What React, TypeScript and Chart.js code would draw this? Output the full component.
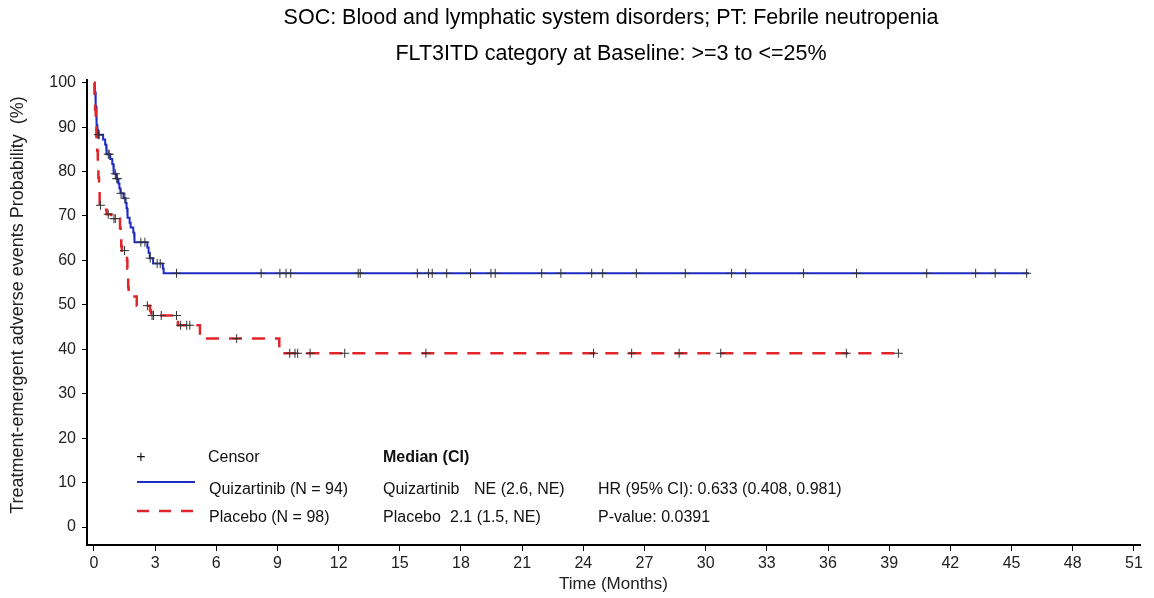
import React, { useEffect, useRef } from "react";
import { Chart, registerables } from "chart.js";

Chart.register(...registerables);

const FONT = '"Liberation Sans", Arial, sans-serif';

const TITLE_LINES = [
  "SOC: Blood and lymphatic system disorders; PT: Febrile neutropenia",
  "FLT3ITD category at Baseline: >=3 to <=25%",
];
const X_TITLE = "Time (Months)";
const Y_TITLE = "Treatment-emergent adverse events Probability  (%)";

const X_TICKS = [0, 3, 6, 9, 12, 15, 18, 21, 24, 27, 30, 33, 36, 39, 42, 45, 48, 51];
const Y_TICKS = [0, 10, 20, 30, 40, 50, 60, 70, 80, 90, 100];

// Quizartinib (blue, solid)
const QUIZ_EVENT_TIMES = [
  0.03, 0.05, 0.07, 0.08, 0.1, 0.11, 0.12, 0.13, 0.15, 0.17, 0.2,
  0.45, 0.55, 0.6, 0.63, 0.8, 0.9, 0.95, 0.98, 1.1, 1.2, 1.25, 1.3,
  1.45, 1.55, 1.6, 1.63, 1.66, 1.75, 1.8, 1.93, 1.97, 2.0,
  2.62, 2.68, 2.74, 2.9, 3.38, 3.42,
];
const QUIZ_SURVIVAL = [
  98.9, 97.9, 96.8, 95.7, 94.7, 93.6, 92.6, 91.5, 90.4, 89.4, 88.3,
  87.2, 86.1, 85.0, 83.9, 82.8, 81.7, 80.6, 79.5, 78.4, 77.3, 76.2, 75.1,
  74.0, 72.9, 71.8, 70.7, 69.6, 68.5, 67.4, 66.3, 65.2, 64.1,
  62.9, 61.7, 60.5, 59.3, 58.2, 57.1,
];
const QUIZ_CENSOR_TIMES = [
  0.22, 0.26, 0.7, 0.75, 1.05, 1.12, 1.15, 1.33, 1.52, 2.3, 2.5, 2.76, 3.1, 3.25,
  4.05, 8.2, 9.12, 9.42, 9.65, 12.96, 13.06, 15.86, 16.41, 16.59, 17.3, 18.47,
  19.47, 19.68, 21.96, 22.9, 24.41, 24.95, 26.6, 29.0, 31.27, 31.96, 34.8, 37.4,
  40.84, 43.24, 44.2, 45.74,
];
const QUIZ_END_TIME = 45.85;

// Placebo (red, dashed)
const PLAC_EVENT_TIMES = [
  0.03, 0.06, 0.09, 0.12, 0.16, 0.19, 0.22, 0.25, 0.28,
  0.45, 0.62, 0.85, 1.28, 1.31, 1.34, 1.37,
  1.62, 1.64, 1.66, 1.68, 1.7, 2.1, 2.75, 2.8, 4.12, 5.2, 9.09,
];
const PLAC_SURVIVAL = [
  96.9, 93.9, 90.8, 87.8, 84.7, 81.6, 78.6, 75.5, 72.4,
  71.4, 70.4, 69.4, 67.3, 65.3, 63.2, 62.2,
  60.1, 58.1, 56.0, 54.0, 51.9, 49.8, 48.7, 47.6, 45.4, 42.4, 39.1,
];
const PLAC_CENSOR_TIMES = [
  0.32, 0.7, 0.98, 1.05, 1.5, 2.62, 2.85, 2.92, 3.3, 4.05, 4.25, 4.55, 4.7,
  7.0, 9.6, 9.86, 9.99, 10.6, 12.3, 16.28, 24.5, 26.37, 28.7, 30.74, 36.9, 39.45,
];
const PLAC_END_TIME = 39.5;

const BLUE = "#1f2cc4";
const RED = "#e0262b";

function stepPath(times: number[], surv: number[], end: number) {
  const pts: { x: number; y: number }[] = [{ x: 0, y: 100 }];
  let prev = 100;
  for (let i = 0; i < times.length; i++) {
    pts.push({ x: times[i], y: prev });
    pts.push({ x: times[i], y: surv[i] });
    prev = surv[i];
  }
  pts.push({ x: end, y: prev });
  return pts;
}

function censorPoints(times: number[], evTimes: number[], surv: number[]) {
  return times.map((t) => {
    let s = 100;
    for (let i = 0; i < evTimes.length; i++) if (evTimes[i] <= t) s = surv[i];
    return { x: t, y: s };
  });
}

const overlayPlugin = {
  id: "overlay",
  afterDraw(chart: any) {
    const ctx = chart.ctx as CanvasRenderingContext2D;
    ctx.save();
    ctx.fillStyle = "#000";
    // titles
    ctx.textAlign = "center";
    ctx.textBaseline = "alphabetic";
    ctx.font = `21.5px ${FONT}`;
    ctx.fillText(TITLE_LINES[0], 611, 24);
    ctx.fillText(TITLE_LINES[1], 611, 60);

    // y title
    ctx.save();
    ctx.translate(18, 305);
    ctx.rotate(-Math.PI / 2);
    ctx.textBaseline = "middle";
    ctx.font = `18px ${FONT}`;
    ctx.fillStyle = "#222";
    ctx.fillText(Y_TITLE, 0, 0);
    ctx.restore();

    // legend block
    ctx.textBaseline = "middle";
    ctx.font = `16px ${FONT}`;
    ctx.fillStyle = "#111";
    ctx.textAlign = "center";
    ctx.fillText("+", 141, 458);
    ctx.textAlign = "left";
    ctx.fillText("Censor", 208, 458);
    ctx.fillText("Quizartinib (N = 94)", 209, 490);
    ctx.fillText("Placebo (N = 98)", 209, 518);
    ctx.fillText("Quizartinib", 383, 490);
    ctx.fillText("NE (2.6, NE)", 474, 490);
    ctx.fillText("Placebo", 383, 518);
    ctx.fillText("2.1 (1.5, NE)", 450, 518);
    ctx.fillText("HR (95% CI): 0.633 (0.408, 0.981)", 598, 490);
    ctx.fillText("P-value: 0.0391", 598, 518);
    ctx.font = `bold 16px ${FONT}`;
    ctx.fillText("Median (CI)", 383, 458);

    // legend line samples
    ctx.lineWidth = 2;
    ctx.strokeStyle = BLUE;
    ctx.beginPath();
    ctx.moveTo(137, 482);
    ctx.lineTo(195, 482);
    ctx.stroke();
    ctx.lineWidth = 2.5;
    ctx.strokeStyle = RED;
    ctx.setLineDash([12, 10]);
    ctx.beginPath();
    ctx.moveTo(137, 511);
    ctx.lineTo(195, 511);
    ctx.stroke();
    ctx.setLineDash([]);
    ctx.restore();
  },
};

export default function App() {
  const canvasRef = useRef<HTMLCanvasElement | null>(null);

  useEffect(() => {
    const canvas = canvasRef.current;
    if (!canvas) return;
    const chart = new Chart(canvas, {
      type: "line",
      data: {
        datasets: [
          {
            label: "Quizartinib censor",
            data: censorPoints(QUIZ_CENSOR_TIMES, QUIZ_EVENT_TIMES, QUIZ_SURVIVAL),
            showLine: false,
            pointStyle: "cross",
            pointRadius: 4.5,
            pointBorderColor: "#333",
            pointBorderWidth: 1,
            borderColor: "#333",
            order: 0,
          },
          {
            label: "Placebo censor",
            data: censorPoints(PLAC_CENSOR_TIMES, PLAC_EVENT_TIMES, PLAC_SURVIVAL),
            showLine: false,
            pointStyle: "cross",
            pointRadius: 4.5,
            pointBorderColor: "#333",
            pointBorderWidth: 1,
            borderColor: "#333",
            order: 0,
          },
          {
            label: "Placebo (N = 98)",
            data: stepPath(PLAC_EVENT_TIMES, PLAC_SURVIVAL, PLAC_END_TIME),
            borderColor: RED,
            borderWidth: 2.5,
            borderDash: [13, 10],
            pointRadius: 0,
            fill: false,
            tension: 0,
            order: 1,
          },
          {
            label: "Quizartinib (N = 94)",
            data: stepPath(QUIZ_EVENT_TIMES, QUIZ_SURVIVAL, QUIZ_END_TIME),
            borderColor: BLUE,
            borderWidth: 2,
            pointRadius: 0,
            fill: false,
            tension: 0,
            order: 2,
          },
        ],
      },
      options: {
        animation: false,
        responsive: false,
        maintainAspectRatio: false,
        layout: { padding: { left: 0, top: 80, right: 14, bottom: 0 } },
        plugins: {
          legend: { display: false },
          title: { display: false },
          tooltip: { enabled: false },
        },
        scales: {
          x: {
            type: "linear",
            min: -0.34,
            max: 51.3,
            afterBuildTicks: (scale: any) => {
              scale.ticks = X_TICKS.map((v) => ({ value: v }));
            },
            afterFit: (scale: any) => {
              scale.height = 53;
            },
            grid: {
              display: true,
              drawOnChartArea: false,
              drawTicks: true,
              tickLength: 6,
              color: "#000",
              lineWidth: 1,
            },
            border: { display: true, color: "#000", width: 2 },
            ticks: {
              autoSkip: false,
              maxRotation: 0,
              padding: 3,
              color: "#222",
              font: { family: FONT, size: 16 },
            },
            title: {
              display: true,
              text: X_TITLE,
              color: "#222",
              font: { family: FONT, size: 17 },
              padding: { top: 0, bottom: 3 },
            },
          },
          y: {
            type: "linear",
            min: -4.05,
            max: 100.6,
            afterBuildTicks: (scale: any) => {
              scale.ticks = Y_TICKS.map((v) => ({ value: v }));
            },
            afterFit: (scale: any) => {
              scale.width = 87;
            },
            grid: {
              display: true,
              drawOnChartArea: false,
              drawTicks: true,
              tickLength: 5,
              color: "#000",
              lineWidth: 1,
            },
            border: { display: true, color: "#000", width: 2 },
            ticks: {
              autoSkip: false,
              padding: 6,
              color: "#222",
              font: { family: FONT, size: 16 },
            },
            title: { display: false },
          },
        },
      },
      plugins: [overlayPlugin],
    });
    return () => chart.destroy();
  }, []);

  return (
    <div
      style={{
        position: "fixed",
        left: 0,
        top: 0,
        width: 1154,
        height: 598,
        background: "#fff",
      }}
    >
      <canvas ref={canvasRef} width={1154} height={598} style={{ width: 1154, height: 598, display: "block" }} />
    </div>
  );
}
